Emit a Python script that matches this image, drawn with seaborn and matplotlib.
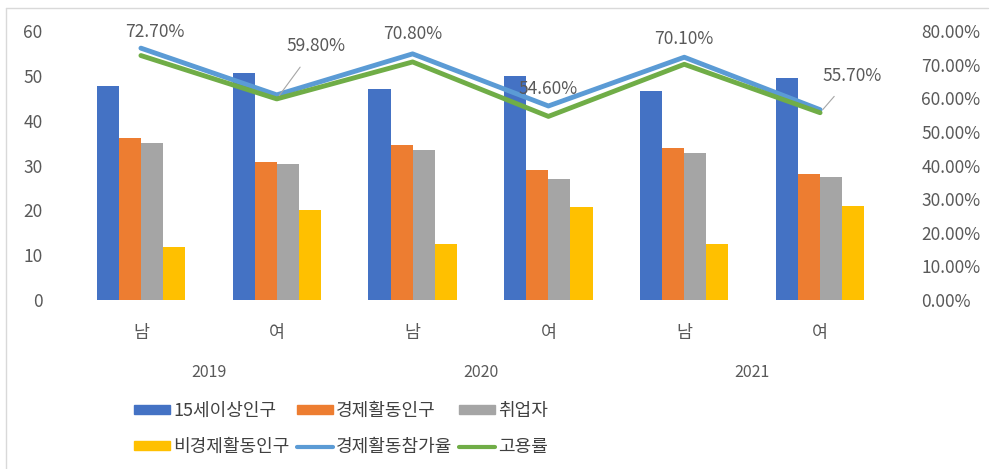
import pandas as pd
import matplotlib
matplotlib.use('Agg')
import matplotlib.pyplot as plt
from matplotlib.lines import Line2D
from matplotlib.patches import Patch
from matplotlib.ticker import FuncFormatter
import seaborn as sns

# data
years = ['2019', '2020', '2021']
sexes = ['남', '여', '남', '여', '남', '여']
pop15 = [47.8, 50.7, 47.0, 49.9, 46.7, 49.5]          # 15세이상인구
econ_active = [36.1, 30.7, 34.6, 28.9, 33.9, 28.1]    # 경제활동인구
employed = [35.0, 30.4, 33.5, 27.0, 32.8, 27.4]       # 취업자
non_active = [11.9, 20.0, 12.5, 20.7, 12.5, 21.0]     # 비경제활동인구
particip_rate = [74.9, 61.0, 73.2, 57.7, 72.2, 56.6]  # 경제활동참가율 (%)
employ_rate = [72.7, 59.8, 70.8, 54.6, 70.1, 55.7]    # 고용률 (%)

bar_names = ['15세이상인구', '경제활동인구', '취업자', '비경제활동인구']
bar_colors = ['#4472C4', '#ED7D31', '#A5A5A5', '#FFC000']
line_names = ['경제활동참가율', '고용률']
line_colors = ['#5B9BD5', '#70AD47']
txt = '#595959'

sns.set_style('white')
plt.rcParams['font.family'] = ['Noto Sans CJK KR', 'DejaVu Sans']

pos = list(range(len(sexes)))
bars = pd.DataFrame({
    'pos': pos * 4,
    'value': pop15 + econ_active + employed + non_active,
    'series': [n for n in bar_names for _ in pos],
})
lines = pd.DataFrame({
    'pos': pos * 2,
    'value': particip_rate + employ_rate,
    'series': [n for n in line_names for _ in pos],
})

fig = plt.figure(figsize=(9.92, 4.69), dpi=100)
ax = fig.add_axes([73 / 992, 169 / 469, 815 / 992, 269 / 469])

sns.barplot(data=bars, x='pos', y='value', hue='series', hue_order=bar_names,
            palette=bar_colors, width=0.65, gap=0, saturation=1, linewidth=0,
            ax=ax, legend=False, errorbar=None)
ax.set_xlim(-0.5, 5.5)
ax.set_ylim(0, 60)
ax.set_yticks(range(0, 61, 10))
ax.set_xticks(pos)
ax.set_xticklabels(sexes)
ax.set_xlabel('')
ax.set_ylabel('')
ax.tick_params(axis='y', colors=txt, labelsize=12.5, length=0, pad=22)
ax.tick_params(axis='x', colors=txt, labelsize=12.5, length=0, pad=17)
for s in ax.spines.values():
    s.set_visible(False)

for i, y in enumerate(years):
    ax.text(2 * i + 0.5, -0.27, y, transform=ax.get_xaxis_transform(),
            ha='center', va='center', fontsize=11.5, color=txt)

ax2 = ax.twinx()
sns.lineplot(data=lines, x='pos', y='value', hue='series', hue_order=line_names,
             palette=line_colors, linewidth=3.5, ax=ax2, legend=False)
ax2.set_ylim(0, 80)
ax2.set_yticks(range(0, 81, 10))
ax2.yaxis.set_major_formatter(FuncFormatter(lambda v, p: f'{v:.2f}%'))
ax2.set_ylabel('')
ax2.tick_params(axis='y', colors=txt, labelsize=12.5, length=0, pad=24)
for s in ax2.spines.values():
    s.set_visible(False)
ax.set_xlim(-0.5, 5.5)

# data labels of 고용률
offsets = [(14, 24), (39, 53), (0, 28), (0, 27), (0, 25), (32, 37)]
for i, v in enumerate(employ_rate):
    dx, dy = offsets[i]
    leader = dict(arrowstyle='-', color='#A6A6A6', lw=0.8, shrinkA=8, shrinkB=3) if dx > 20 else None
    ax2.annotate(f'{v:.2f}%', xy=(i, v), xytext=(dx, dy), textcoords='offset pixels',
                 ha='center', va='center', fontsize=12.5, color=txt, arrowprops=leader)

handles = [Patch(color=c, label=n) for n, c in zip(bar_names, bar_colors)]
handles += [Line2D([], [], color=c, lw=3, label=n) for n, c in zip(line_names, line_colors)]
order = [0, 3, 1, 4, 2, 5]
fig.legend([handles[k] for k in order], [handles[k].get_label() for k in order],
           ncol=3, loc='center left', bbox_to_anchor=(118 / 992, 1 - 429 / 469),
           frameon=False, fontsize=13, labelcolor='#404040', handlelength=2.0,
           handleheight=0.4, handletextpad=0.15, columnspacing=0.4, labelspacing=1.0)

# chart border
fig.add_artist(Line2D([6 / 992, 6 / 992], [0, 1 - 8 / 469], color='#D9D9D9', lw=1))
fig.add_artist(Line2D([6 / 992, 988 / 992], [1 - 8 / 469, 1 - 8 / 469], color='#D9D9D9', lw=1))

fig.savefig('out.png', dpi=100)
